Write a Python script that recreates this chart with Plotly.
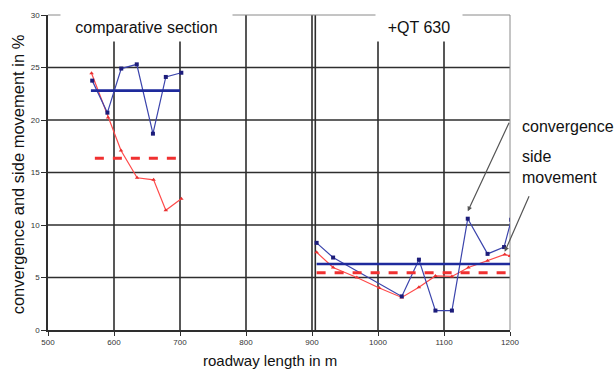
import plotly.graph_objects as go

# ---- data ----
conv1_x = [567, 590, 611, 634.5, 659, 678.5, 702]
conv1_y = [23.75, 20.7, 24.9, 25.3, 18.7, 24.1, 24.5]
side1_x = [566, 591, 610.6, 635, 660, 678.5, 702]
side1_y = [24.45, 20.25, 17.1, 14.5, 14.3, 11.4, 12.5]

conv2_x = [907, 932, 1036, 1062, 1087, 1112, 1136, 1166, 1191, 1202]
conv2_y = [8.3, 6.9, 3.2, 6.7, 1.85, 1.85, 10.6, 7.25, 7.9, 10.5]
side2_x = [907, 932, 968, 1002, 1036, 1062, 1087, 1112, 1137, 1166, 1192, 1200]
side2_y = [7.4, 5.95, 5.0, 4.0, 3.1, 4.07, 5.15, 5.1, 5.95, 6.6, 7.2, 7.05]

mean_conv1_x = [565, 700]
mean_conv1_y = [22.8, 22.8]
mean_side1_x = [571, 706]
mean_side1_y = [16.35, 16.35]
mean_conv2_x = [907, 1200]
mean_conv2_y = [6.29, 6.29]
mean_side2_x = [907, 1200]
mean_side2_y = [5.46, 5.46]

x_ticks = [500, 600, 700, 800, 900, 1000, 1100, 1200]
y_ticks = [0, 5, 10, 15, 20, 25, 30]
grid_x = [600, 700, 800, 900, 905, 1000, 1100]
grid_y = [5, 10, 15, 20, 25]

x_title = "roadway length in m"
y_title = "convergence and side movement in %"

BLUE = "#3b44ac"
BLUE_M = "#1c1c7a"
BLUE_MEAN = "#1e2a9c"
RED = "#ff4a4a"
RED_MEAN = "#f03030"
GRID = "#2e2e2e"
FONT = "Liberation Sans, Arial, sans-serif"
TICKFONT = "Liberation Sans Narrow, Arial Narrow, sans-serif"

fig = go.Figure()

def data_line(x, y, color, mcolor, symbol):
    fig.add_trace(go.Scatter(x=x, y=y, mode="lines+markers",
                             line=dict(color=color, width=1.2),
                             marker=dict(color=mcolor, size=4, symbol=symbol),
                             showlegend=False, hoverinfo="skip"))

def mean_line(x, y, color, dash, width):
    fig.add_trace(go.Scatter(x=x, y=y, mode="lines",
                             line=dict(color=color, width=width, dash=dash),
                             showlegend=False, hoverinfo="skip"))

data_line(side1_x, side1_y, RED, "#e83030", "triangle-up")
data_line(conv1_x, conv1_y, BLUE, BLUE_M, "square")
data_line(side2_x, side2_y, RED, "#e83030", "triangle-up")
data_line(conv2_x, conv2_y, BLUE, BLUE_M, "square")
mean_line(mean_conv1_x, mean_conv1_y, BLUE_MEAN, "solid", 2.6)
mean_line(mean_side1_x, mean_side1_y, RED_MEAN, "dash", 3)
mean_line(mean_conv2_x, mean_conv2_y, BLUE_MEAN, "solid", 2.6)
mean_line(mean_side2_x, mean_side2_y, RED_MEAN, "dash", 3)

shapes = []
for v in grid_x:
    shapes.append(dict(type="line", xref="x", yref="paper", x0=v, x1=v, y0=0, y1=1,
                       line=dict(color=GRID, width=1.6), layer="below"))
for v in grid_y:
    shapes.append(dict(type="line", xref="paper", yref="y", x0=0, x1=1, y0=v, y1=v,
                       line=dict(color=GRID, width=1.6), layer="below"))
# top and right border (thin grey)
shapes.append(dict(type="line", xref="paper", yref="paper", x0=0, x1=1, y0=1, y1=1,
                   line=dict(color="#8a8a8a", width=1), layer="below"))
shapes.append(dict(type="line", xref="paper", yref="paper", x0=1, x1=1, y0=0, y1=1,
                   line=dict(color="#8a8a8a", width=1), layer="below"))

annotations = [
    dict(text="comparative section", xref="paper", yref="paper", x=0.213, y=0.962,
         showarrow=False, font=dict(size=16, color="#111", family=FONT),
         bgcolor="white", width=169, height=26, xanchor="center", yanchor="middle"),
    dict(text="+QT 630", xref="paper", yref="paper", x=0.803, y=0.962,
         showarrow=False, font=dict(size=16, color="#111", family=FONT),
         bgcolor="white", width=84, height=26, xanchor="center", yanchor="middle"),
    dict(text="convergence", xref="paper", yref="paper", x=1.022, y=0.645,
         xanchor="left", yanchor="middle", showarrow=False,
         font=dict(size=16, color="#111", family=FONT)),
    dict(text="side<br>movement", xref="paper", yref="paper", x=1.022, y=0.518,
         xanchor="left", yanchor="middle", align="left", showarrow=False,
         font=dict(size=16, color="#111", family=FONT)),
    dict(text="", x=1136, y=11.3, xref="x", yref="y", showarrow=True,
         ax=42, ay=-90, arrowhead=2, arrowsize=0.8, arrowwidth=1.2, arrowcolor="#555"),
    dict(text="", x=1192, y=7.45, xref="x", yref="y", showarrow=True,
         ax=25, ay=-57, arrowhead=2, arrowsize=0.8, arrowwidth=1.2, arrowcolor="#555"),
    dict(text=x_title, xref="paper", yref="paper", x=0.4805, y=-0.098,
         xanchor="center", yanchor="middle", showarrow=False,
         font=dict(size=15, color="#111", family=FONT)),
    dict(text=y_title, xref="paper", yref="paper", x=-0.065, y=0.494, textangle=-90,
         xanchor="center", yanchor="middle", showarrow=False,
         font=dict(size=16.5, color="#111", family=FONT)),
]

fig.update_layout(
    width=616, height=371,
    margin=dict(l=48, r=106, t=15, b=41, autoexpand=False),
    paper_bgcolor="white", plot_bgcolor="white",
    font=dict(family=FONT, color="#222"),
    shapes=shapes, annotations=annotations,
    xaxis=dict(range=[500, 1200], tickvals=x_ticks, ticktext=[str(v) for v in x_ticks],
               showgrid=False, zeroline=False, showline=True, linecolor=GRID, linewidth=1.6,
               ticks="outside", ticklen=4, tickcolor=GRID, tickwidth=1, automargin=False,
               tickfont=dict(size=8, family=TICKFONT, color="#333")),
    yaxis=dict(range=[0, 30], tickvals=y_ticks, ticktext=[str(v) for v in y_ticks],
               showgrid=False, zeroline=False, showline=True, linecolor=GRID, linewidth=1.6,
               ticks="outside", ticklen=5, tickcolor=GRID, tickwidth=1, automargin=False,
               tickfont=dict(size=8, family=TICKFONT, color="#333")),
)

fig.write_html("out.html", config={"displayModeBar": False},
               post_script="document.body.style.margin='0';document.body.style.overflow='hidden';")
